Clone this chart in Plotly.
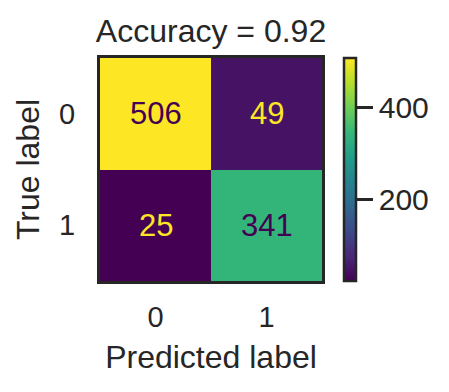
import plotly.graph_objects as go

categories = ["0", "1"]
matrix = [[506, 49], [25, 341]]
accuracy = 0.92
cbar_ticks = [200, 400]

dark = "#262626"
font_family = "Liberation Sans, Arial, sans-serif"

vmin = min(min(r) for r in matrix)
vmax = max(max(r) for r in matrix)
thresh = (vmin + vmax) / 2.0
text_colors = [["#440154" if v >= thresh else "#fde725" for v in row] for row in matrix]

# page has an 8px body margin, so the figure is sized/offset to compensate
W, H = 441, 384
ML, MR, MT, MB = 92, 127, 50, 111
plot_w = W - ML - MR

fig = go.Figure()
fig.add_trace(go.Heatmap(
    z=matrix, x=categories, y=categories,
    colorscale="Viridis", zmin=vmin, zmax=vmax,
    showscale=True,
    colorbar=dict(
        x=(336 - ML) / plot_w, xanchor="left", xref="paper",
        y=0.5, yanchor="middle", len=1.0, lenmode="fraction",
        thickness=12, outlinewidth=2.5, outlinecolor=dark,
        tickvals=cbar_ticks, ticks="outside", ticklen=16, tickwidth=2.5,
        tickcolor=dark, tickfont=dict(size=30, color=dark, family=font_family),
        xpad=0, ypad=0,
    ),
    hoverinfo="skip",
))

for i, row in enumerate(matrix):
    for j, v in enumerate(row):
        fig.add_annotation(x=categories[j], y=categories[i], text=str(v),
                           showarrow=False,
                           font=dict(size=31, color=text_colors[i][j], family=font_family))

fig.update_layout(
    width=W, height=H,
    margin=dict(l=ML, r=MR, t=MT, b=MB, autoexpand=False),
    paper_bgcolor="white", plot_bgcolor="white",
    title=dict(text=f"Accuracy = {accuracy:.2f}", x=0.5, xref="paper",
               y=1 - 23 / H, yref="container", yanchor="middle",
               font=dict(size=32, color=dark, family=font_family)),
    font=dict(family=font_family, color=dark),
)
fig.update_xaxes(
    showline=True, linewidth=3, linecolor=dark, mirror=True, automargin=False,
    ticks="outside", ticklen=8, tickcolor="rgba(0,0,0,0)",
    tickfont=dict(size=29, color=dark),
    title=dict(text="Predicted label", font=dict(size=32, color=dark), standoff=14),
    showgrid=False, zeroline=False,
)
fig.update_yaxes(
    showline=True, linewidth=3, linecolor=dark, mirror=True, automargin=False,
    autorange="reversed",
    ticks="outside", ticklen=16, tickcolor="rgba(0,0,0,0)",
    tickfont=dict(size=29, color=dark),
    title=dict(text="True label", font=dict(size=32, color=dark), standoff=10),
    showgrid=False, zeroline=False,
)

fig.write_html("out.html")
